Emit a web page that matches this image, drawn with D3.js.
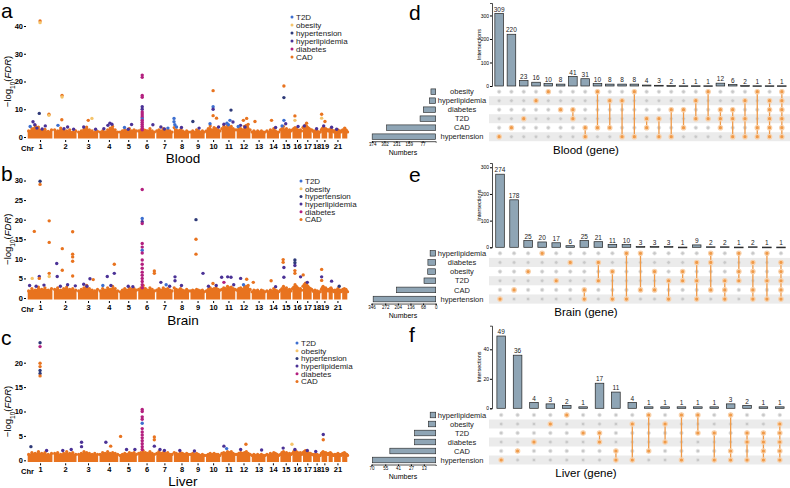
<!DOCTYPE html>
<html>
<head>
<meta charset="utf-8">
<script src="https://cdn.jsdelivr.net/npm/d3@7"></script>
<style>
body { margin: 0; background: #fff; }
svg { font-family: "Liberation Sans", Arial, sans-serif; }
</style>
</head>
<body>
<svg id="fig" width="790" height="488"></svg>
<script>
// ---- shared ----
var traits = ["T2D", "obesity", "hypertension", "hyperlipidemia", "diabetes", "CAD"];
var traitColor = {T2D: "#3d6fd0", obesity: "#f5c46a", hypertension: "#2e3a78",
                  hyperlipidemia: "#4b3296", diabetes: "#b3207f", CAD: "#e8731f"};
// relative chromosome span on the genome axis
var chrSpan = [260, 240, 215, 200, 185, 180, 175, 165, 155, 155, 150, 150, 150, 135, 120, 105, 100, 85, 70, 55, 80, 65];
var chrLabels = ["1","2","3","4","5","6","7","8","9","10","11","12","13","14","15","16","17","18","19","","21",""];

// ---- Manhattan: top of the dense low-signal band, per chromosome ----
var bloodBand = [
 [2.2,3.0,4.2,3.6,2.4,2.8,2.0,2.6],[2.6,2.2,3.2,2.6,2.2,2.6,1.8,2.2],[1.8,2.2,2.8,3.6,2.6,2.2,1.8,2.0],
 [1.8,2.2,1.9,2.6,3.2,3.8,2.6,1.8],[1.8,2.2,2.6,2.2,3.0,2.2,2.6,2.2],[2.2,2.6,2.8,2.4,2.2,3.0,2.2,1.8],
 [2.2,2.6,2.2,3.0,2.2,2.6,2.2,1.8],[3.4,2.6,2.2,2.6,2.2,1.8,2.2,1.8],[1.8,2.2,1.8,2.6,2.2,1.8,2.2,1.8],
 [2.2,3.0,4.0,2.6,3.4,3.0,2.6,2.2],[3.0,3.8,3.4,4.2,3.4,3.8,3.0,2.6],[2.6,3.4,3.0,2.6,3.8,4.2,4.6,2.6],
 [1.8,2.2,1.8,2.2,1.8,2.2,1.8,1.8],[2.2,1.8,2.6,2.2,3.0,2.2,1.8,1.8],[2.6,3.0,3.8,2.6,3.0,2.2,2.6,2.2],
 [2.6,3.0,3.4,3.0,2.6,2.2,2.6,2.2],[3.4,3.8,4.2,3.8,3.4,3.0,2.6,2.6],[2.2,1.8,2.2,1.8,2.2,1.8,1.8,1.8],
 [2.6,3.0,3.4,3.0,2.6,3.0,2.6,2.6],[2.2,2.6,2.2,2.6,3.0,2.6,2.2,2.2],[1.8,2.2,1.8,2.2,2.6,1.8,2.2,1.8],
 [2.2,2.6,2.2,2.6,2.2,2.6,2.2,1.8]];
var brainBand = [
 [1.8,2.4,2.0,2.8,2.2,2.6,2.0,2.4],[2.2,2.6,2.0,2.4,2.8,2.2,2.4,2.0],[1.8,2.2,2.6,3.2,2.4,2.0,1.8,2.2],
 [1.8,2.4,2.0,2.6,2.2,3.0,2.4,1.8],[1.6,2.0,2.4,2.0,2.6,2.2,2.4,2.0],[2.2,2.6,3.2,2.4,2.0,2.6,2.2,1.8],
 [2.0,2.4,2.0,2.6,2.2,2.4,2.0,1.8],[2.6,2.2,2.0,2.4,2.0,1.8,2.2,1.8],[1.8,2.0,1.8,2.2,2.0,1.8,2.0,1.6],
 [1.8,2.2,2.6,2.2,2.4,2.6,2.2,2.0],[2.2,2.6,2.4,3.0,2.6,2.8,2.4,2.2],[2.0,2.4,2.6,2.2,2.8,3.0,3.2,2.2],
 [1.6,2.0,1.8,2.0,1.6,2.0,1.8,1.6],[1.8,1.6,2.0,1.8,2.4,2.0,1.8,1.6],[2.0,2.4,3.0,2.4,2.6,2.0,2.2,1.8],
 [2.4,2.8,3.4,3.0,2.6,2.2,2.4,2.0],[3.0,3.4,3.8,3.4,3.0,2.6,2.4,2.2],[1.8,1.6,2.0,1.6,1.8,1.6,1.6,1.6],
 [2.2,2.6,3.0,2.6,2.4,2.6,2.2,2.0],[1.8,2.2,2.0,2.4,2.6,2.2,2.0,1.8],[1.6,2.0,1.8,2.0,2.4,1.8,2.0,1.6],
 [1.8,2.2,2.0,2.4,2.0,2.2,1.8,1.6]];
var liverBand = [
 [1.2,1.6,1.4,1.8,1.4,1.6,1.2,1.4],[1.4,1.6,1.2,1.4,1.8,1.4,1.6,1.2],[1.2,1.4,1.8,1.6,1.4,1.2,1.4,1.2],
 [1.2,1.6,1.4,1.8,1.4,1.6,1.4,1.2],[1.0,1.2,1.4,1.2,1.6,1.4,1.6,1.2],[1.4,1.6,2.0,1.6,1.4,1.8,1.4,1.2],
 [1.4,1.8,1.4,1.6,1.4,1.6,1.2,1.2],[1.6,1.4,1.2,1.6,1.4,1.2,1.4,1.2],[1.2,1.4,1.2,1.4,1.2,1.0,1.2,1.0],
 [1.0,1.2,1.4,1.2,1.4,1.2,1.2,1.0],[1.4,1.6,1.4,1.8,1.6,1.8,1.4,1.2],[1.2,1.4,1.6,1.4,1.6,1.8,1.4,1.2],
 [1.0,1.2,1.0,1.2,1.0,1.2,1.0,1.0],[1.2,1.0,1.4,1.2,1.6,1.4,1.2,1.0],[1.2,1.6,1.8,1.4,1.6,1.2,1.4,1.2],
 [1.4,1.8,2.0,1.8,1.6,1.4,1.6,1.2],[1.6,1.8,2.0,1.8,1.6,1.4,1.4,1.2],[1.2,1.0,1.2,1.0,1.2,1.0,1.0,1.0],
 [1.4,1.6,1.8,1.6,1.4,1.6,1.4,1.2],[1.2,1.4,1.2,1.6,1.4,1.2,1.2,1.0],[1.0,1.2,1.0,1.2,1.4,1.0,1.2,1.0],
 [1.2,1.4,1.2,1.6,1.4,1.2,1.2,1.0]];

// ---- Manhattan: genes above the band [trait, chr, position in chr (0-1), -log10 FDR] ----
var bloodPoints = [
 ["CAD",1,.50,41.8],["obesity",1,.50,41.2],["hypertension",1,.47,8.5],["hyperlipidemia",1,.23,5.5],
 ["hyperlipidemia",1,.30,4.4],["T2D",1,.12,3.8],["CAD",1,.84,8.2],["obesity",1,.84,7.8],["hyperlipidemia",1,.70,4.0],
 ["hyperlipidemia",1,.38,3.2],["hyperlipidemia",1,.58,2.9],
 ["CAD",2,.37,15.0],["obesity",2,.37,14.4],["CAD",2,.36,6.2],["hyperlipidemia",2,.60,3.6],["T2D",2,.20,4.2],
 ["hyperlipidemia",2,.45,3.0],["hyperlipidemia",2,.85,2.8],
 ["obesity",3,.68,6.7],["CAD",3,.51,6.0],["hyperlipidemia",3,.30,3.6],["hyperlipidemia",3,.85,2.8],
 ["hyperlipidemia",4,.55,5.0],["hyperlipidemia",4,.45,4.2],["hyperlipidemia",4,.65,4.6],["hyperlipidemia",4,.25,3.0],
 ["hyperlipidemia",5,.68,4.5],["T2D",5,.30,3.4],["hyperlipidemia",5,.50,2.8],
 ["diabetes",6,.26,22.3],["diabetes",6,.26,21.5],["diabetes",6,.26,15.0],["diabetes",6,.26,14.3],
 ["hyperlipidemia",6,.26,10.9],["hyperlipidemia",6,.26,10.0],["diabetes",6,.26,9.0],["diabetes",6,.26,8.3],
 ["diabetes",6,.26,7.6],["diabetes",6,.26,7.0],["T2D",6,.26,6.5],["diabetes",6,.26,6.0],["diabetes",6,.26,5.3],
 ["diabetes",6,.26,4.6],["diabetes",6,.26,3.9],["diabetes",6,.26,3.2],["diabetes",6,.26,2.6],["hyperlipidemia",6,.85,4.4],
 ["hyperlipidemia",7,.30,3.6],["T2D",7,.70,3.2],["hyperlipidemia",7,.50,2.9],
 ["T2D",8,.05,6.7],["T2D",8,.05,5.5],["T2D",8,.10,4.4],["hyperlipidemia",8,.50,3.4],["T2D",8,.20,3.6],
 ["hypertension",9,.20,5.6],["hyperlipidemia",9,.60,3.2],
 ["CAD",10,.50,16.7],["T2D",10,.50,10.9],["hyperlipidemia",10,.50,10.0],["CAD",10,.50,7.7],["CAD",10,.72,6.8],["T2D",10,.30,4.8],
 ["hyperlipidemia",10,.85,3.6],
 ["hypertension",11,.67,9.7],["T2D",11,.60,6.0],["hyperlipidemia",11,.80,5.4],["T2D",11,.40,5.0],["hyperlipidemia",11,.20,4.6],
 ["T2D",11,.50,4.4],
 ["CAD",12,.49,6.0],["CAD",12,.71,6.7],["hyperlipidemia",12,.30,4.2],["T2D",12,.15,3.8],["hyperlipidemia",12,.60,3.6],
 ["CAD",13,.26,5.6],["CAD",14,.40,6.0],["hyperlipidemia",14,.70,3.4],
 ["CAD",15,.35,18.4],["hypertension",15,.35,14.2],["T2D",15,.35,6.0],["hyperlipidemia",15,.50,4.8],["T2D",15,.20,4.0],
 ["CAD",16,.30,7.6],["obesity",16,.30,6.0],["hyperlipidemia",16,.60,3.8],
 ["CAD",17,.43,5.0],["hyperlipidemia",17,.20,4.0],["hyperlipidemia",18,.50,3.0],
 ["CAD",19,.11,8.2],["obesity",19,.11,6.8],["CAD",19,.58,5.6],["hyperlipidemia",19,.40,4.0],
 ["hyperlipidemia",20,.67,3.5],["hyperlipidemia",21,.40,2.8],["CAD",22,.50,3.2]];
var brainPoints = [
 ["hypertension",1,.50,29.8],["CAD",1,.50,29.0],["CAD",1,.28,17.0],["obesity",1,.20,5.0],["hyperlipidemia",1,.47,5.5],
 ["CAD",1,.47,5.0],["CAD",1,.85,19.7],["CAD",1,.85,14.2],["CAD",1,.85,6.3],["obesity",1,.85,5.5],["hyperlipidemia",1,.10,3.2],
 ["hyperlipidemia",1,.35,3.0],["hyperlipidemia",1,.65,3.3],
 ["hyperlipidemia",2,.15,8.8],["hyperlipidemia",2,.17,5.5],["CAD",2,.38,12.6],["CAD",2,.38,7.1],
 ["CAD",2,.81,16.9],["CAD",2,.81,11.2],["CAD",2,.81,10.5],["CAD",2,.81,9.4],["CAD",2,.81,5.6],["hyperlipidemia",2,.60,3.4],
 ["hyperlipidemia",2,.30,3.0],["hyperlipidemia",2,.92,3.1],
 ["hyperlipidemia",3,.59,4.9],["CAD",3,.74,4.7],["hyperlipidemia",3,.30,3.5],["hyperlipidemia",3,.45,3.0],
 ["hyperlipidemia",4,.42,5.5],["hyperlipidemia",4,.77,6.3],["CAD",4,.77,8.6],["T2D",4,.20,3.2],["hyperlipidemia",4,.60,3.2],
 ["hyperlipidemia",5,.50,3.0],["hyperlipidemia",5,.75,2.9],
 ["diabetes",6,.26,27.7],["T2D",6,.26,20.3],["hyperlipidemia",6,.26,19.5],["diabetes",6,.26,19.0],["diabetes",6,.26,13.9],
 ["diabetes",6,.26,13.0],["T2D",6,.26,12.2],["diabetes",6,.26,11.5],["diabetes",6,.26,9.7],["diabetes",6,.26,8.6],
 ["diabetes",6,.26,7.6],["diabetes",6,.26,6.6],["diabetes",6,.26,5.8],["diabetes",6,.26,5.0],["diabetes",6,.26,4.2],
 ["diabetes",6,.26,3.4],["diabetes",6,.26,2.6],["CAD",6,.93,6.9],["CAD",6,.93,6.3],
 ["hyperlipidemia",7,.30,4.0],["T2D",7,.60,3.4],["hyperlipidemia",7,.80,3.0],
 ["hyperlipidemia",8,.11,5.4],["hyperlipidemia",8,.11,4.4],["hyperlipidemia",8,.50,3.2],
 ["hypertension",9,.40,20.0],["CAD",9,.40,15.0],["CAD",9,.40,11.2],["hyperlipidemia",9,.85,6.3],
 ["CAD",10,.49,3.7],["hyperlipidemia",10,.20,3.0],["hyperlipidemia",10,.70,3.2],
 ["hyperlipidemia",11,.05,5.3],["hyperlipidemia",11,.45,5.4],["hyperlipidemia",11,.67,5.3],["diabetes",11,.20,4.0],
 ["hyperlipidemia",11,.85,3.4],
 ["hyperlipidemia",12,.31,5.0],["CAD",12,.71,4.8],["T2D",12,.50,3.4],
 ["CAD",13,.15,4.0],["CAD",14,.37,4.4],["hyperlipidemia",14,.70,2.9],
 ["CAD",15,.29,9.8],["CAD",15,.29,9.1],["hyperlipidemia",15,.35,7.8],["hyperlipidemia",15,.35,5.3],
 ["hypertension",16,.30,9.7],["hypertension",16,.30,9.0],["hyperlipidemia",16,.30,8.3],["CAD",16,.30,7.0],
 ["CAD",16,.30,6.3],["hyperlipidemia",16,.84,5.4],
 ["CAD",17,.09,5.9],["hyperlipidemia",17,.50,4.0],
 ["CAD",19,.11,7.3],["hyperlipidemia",19,.11,5.4],["CAD",19,.11,4.5],
 ["hyperlipidemia",20,.67,4.3],["hypertension",21,.72,3.0]];
var liverPoints = [
 ["hypertension",1,.50,24.1],["diabetes",1,.50,23.3],["CAD",1,.50,19.9],["CAD",1,.50,19.2],["hypertension",1,.50,18.4],
 ["hypertension",1,.50,17.8],["CAD",1,.50,17.3],["hypertension",1,.15,2.8],["hyperlipidemia",1,.75,2.0],
 ["hyperlipidemia",2,.40,2.0],["hyperlipidemia",2,.75,2.2],
 ["hyperlipidemia",3,.20,3.7],["hyperlipidemia",3,.20,2.8],["hyperlipidemia",4,.35,3.7],["CAD",4,.59,2.9],
 ["CAD",5,.09,4.9],["hyperlipidemia",5,.41,2.2],["hyperlipidemia",5,.86,2.2],
 ["diabetes",6,.26,10.4],["diabetes",6,.26,10.0],["diabetes",6,.26,8.9],["diabetes",6,.26,8.4],["T2D",6,.26,7.6],
 ["diabetes",6,.26,6.5],["diabetes",6,.26,5.8],["diabetes",6,.26,5.2],["diabetes",6,.26,4.6],["diabetes",6,.26,4.0],
 ["diabetes",6,.26,3.4],["diabetes",6,.26,2.8],["diabetes",6,.26,2.2],
 ["CAD",6,.93,4.8],["CAD",6,.93,4.2],["hyperlipidemia",6,.93,2.9],
 ["hyperlipidemia",7,.25,2.2],["hyperlipidemia",7,.50,2.0],["hyperlipidemia",8,.40,2.0],["hyperlipidemia",9,.30,1.9],
 ["hyperlipidemia",11,.20,2.9],["T2D",11,.38,2.4],["hyperlipidemia",12,.31,2.2],["CAD",12,.66,3.3],
 ["hyperlipidemia",13,.70,2.1],["hyperlipidemia",15,.29,2.5],["obesity",16,.02,3.3],["hyperlipidemia",16,.30,2.2],
 ["hyperlipidemia",17,.50,2.0],["hyperlipidemia",18,.40,1.8],["hyperlipidemia",19,.34,5.3],["CAD",19,.34,4.2]];

// ---- UpSet data ----
var bloodSets = ["obesity", "hyperlipidemia", "diabetes", "T2D", "CAD", "hypertension"];
var bloodSizes = [28, 37, 73, 92, 289, 374];
var bloodCounts = [309,220,23,16,10,8,41,31,10,8,8,8,4,3,2,1,1,1,12,6,2,1,1,1];
var bloodCombos = [["hypertension"],["CAD"],["T2D"],["hyperlipidemia"],["obesity"],["diabetes"],
 ["diabetes","T2D"],["CAD","hypertension"],["obesity","CAD"],["hyperlipidemia","CAD"],["hyperlipidemia","hypertension"],
 ["obesity","hypertension"],["T2D","CAD"],["T2D","hypertension"],["diabetes","hypertension"],["diabetes","CAD"],
 ["hyperlipidemia","T2D"],["obesity","T2D"],["diabetes","T2D","CAD"],["diabetes","T2D","hypertension"],
 ["hyperlipidemia","T2D","hypertension"],["obesity","CAD","hypertension"],
 ["hyperlipidemia","diabetes","T2D","CAD","hypertension"],["obesity","hyperlipidemia","diabetes","T2D","CAD","hypertension"]];
var bloodSizeTicks = [374, 302, 231, 159, 77];

var brainSets = ["hyperlipidemia", "diabetes", "obesity", "T2D", "CAD", "hypertension"];
var brainSizes = [30, 42, 43, 63, 211, 337];
var brainCounts = [274,178,25,20,17,6,25,21,11,10,3,3,3,1,9,2,2,1,2,1,1];
var brainCombos = [["hypertension"],["CAD"],["obesity"],["hyperlipidemia"],["T2D"],["diabetes"],
 ["CAD","hypertension"],["diabetes","T2D"],["obesity","hypertension"],["hyperlipidemia","hypertension"],
 ["hyperlipidemia","CAD"],["obesity","CAD"],["T2D","hypertension"],["obesity","T2D"],["diabetes","T2D","hypertension"],
 ["hyperlipidemia","diabetes","CAD"],["T2D","CAD","hypertension"],["hyperlipidemia","obesity","T2D"],
 ["diabetes","obesity","CAD","hypertension"],["hyperlipidemia","T2D","hypertension"],
 ["diabetes","obesity","T2D","CAD","hypertension"]];
var brainSizeTicks = [346, 272, 204, 136, 68, 0];

var liverSets = ["hyperlipidemia", "obesity", "T2D", "diabetes", "CAD", "hypertension"];
var liverSizes = [6, 8, 23, 23, 50, 69];
var liverCounts = [49,36,4,3,2,1,17,11,4,1,1,1,1,1,3,2,1,1];
var liverCombos = [["hypertension"],["CAD"],["diabetes"],["obesity"],["hyperlipidemia"],["T2D"],
 ["T2D","diabetes"],["CAD","hypertension"],["obesity","hypertension"],["hyperlipidemia","CAD"],["obesity","diabetes"],
 ["hyperlipidemia","hypertension"],["hyperlipidemia","T2D"],["T2D","hypertension"],["hyperlipidemia","CAD","hypertension"],
 ["T2D","diabetes","hypertension"],["T2D","diabetes","CAD","hypertension"],["obesity","T2D","diabetes","CAD","hypertension"]];
var liverSizeTicks = [70, 55, 41, 27, 13];

var svg = d3.select("#fig");

function draw_manhattan(cfg) {
    var g = svg.append("g"),
        total = d3.sum(chrSpan),
        starts = chrSpan.map((s, i) => d3.sum(chrSpan.slice(0, i))),
        x = d3.scaleLinear().domain([0, total]).range([27, 348]),
        y = d3.scaleLinear().domain([0, cfg.yMax]).range([cfg.y0, cfg.yTop]),
        eps = x.invert(27.7);

    var area = d3.area().x(d => x(d[0])).y0(y(0) + 1.6).y1(d => y(d[1]));

    cfg.band.forEach((vals, ci) => {
        var pts = vals.map((v, j) => [starts[ci] + (j + 0.5) / vals.length * chrSpan[ci], v]);
        var edge = [[starts[ci] + eps, vals[0]]].concat(pts, [[starts[ci] + chrSpan[ci] - eps, vals[vals.length - 1]]]);
        g.append("path").attr("d", area(edge)).attr("fill", traitColor.CAD);
        g.selectAll(null).data(pts).enter().append("circle")
            .attr("cx", d => x(d[0])).attr("cy", d => y(d[1])).attr("r", 1.6)
            .attr("fill", traitColor.CAD);
    });

    g.selectAll(".pt").data(cfg.points).enter().append("circle").classed("pt", true)
        .attr("cx", d => x(starts[d[1] - 1] + d[2] * chrSpan[d[1] - 1]))
        .attr("cy", d => y(d[3])).attr("r", 1.7)
        .attr("fill", d => traitColor[d[0]]);

    // axes
    var ya = g.append("g").attr("transform", "translate(26,0)")
        .call(d3.axisLeft(y).tickValues(cfg.yTicks).tickSize(2).tickPadding(1));
    ya.select(".domain").remove();
    ya.selectAll("text").style("font-size", "7.5px").style("font-weight", "bold");

    var centers = chrSpan.map((s, i) => starts[i] + s / 2);
    var xa = g.append("g").attr("transform", "translate(0," + (cfg.y0 + 3) + ")")
        .call(d3.axisBottom(x).tickValues(centers).tickFormat((d, i) => chrLabels[i]).tickSize(2).tickPadding(1.5));
    xa.select(".domain").remove();
    xa.selectAll(".tick line").attr("opacity", (d, i) => chrLabels[i] ? 1 : 0);
    xa.selectAll("text").style("font-size", "7.5px").style("font-weight", "bold");
    g.append("text").attr("x", 21).attr("y", cfg.y0 + 13.5).text("Chr")
        .style("font-size", "7.5px").style("font-weight", "bold");

    var yl = g.append("text").attr("transform", "translate(11," + ((cfg.y0 + cfg.yTop) / 2) + ") rotate(-90)")
        .attr("text-anchor", "middle").style("font-size", "9.5px");
    yl.append("tspan").text("\u2212log");
    yl.append("tspan").text("10").attr("baseline-shift", "sub").style("font-size", "6.5px");
    yl.append("tspan").text("(");
    yl.append("tspan").text("FDR").style("font-style", "italic");
    yl.append("tspan").text(")");

    g.append("text").attr("x", 183).attr("y", cfg.titleY).attr("text-anchor", "middle")
        .text(cfg.title).style("font-size", "13.5px");
    g.append("text").attr("x", 1).attr("y", cfg.letterY).text(cfg.letter).style("font-size", "21px");

    var lg = g.append("g").attr("transform", "translate(" + cfg.legendX + "," + cfg.legendY + ")");
    traits.forEach((t, i) => {
        lg.append("circle").attr("cx", 0).attr("cy", i * cfg.legendStep).attr("r", 1.5).attr("fill", traitColor[t]);
        lg.append("text").attr("x", 4).attr("y", i * cfg.legendStep).attr("dy", "0.35em")
            .text(t).style("font-size", "8px").attr("fill", "#222");
    });
}

function draw_upset(cfg) {
    var g = svg.append("g"),
        barColor = "#8fa5b5",
        hit = "#f09a48",
        x = d3.scaleBand().domain(cfg.counts.map((_, i) => i)).range([493, 788]),
        y = d3.scaleLinear().domain([0, cfg.barMax]).range([cfg.zeroY, cfg.barTop]),
        rowY = cfg.sets.map((s, i) => cfg.rowY0 + i * cfg.rowStep),
        xs = d3.scaleLinear().domain([0, cfg.sizeMax]).range([435.7, 371.5]),
        bw = 8.6;

    g.append("text").attr("x", 409).attr("y", cfg.letterY).text(cfg.letter).style("font-size", "21px");

    // intersection bars
    g.selectAll(".bar").data(cfg.counts).enter().append("rect").classed("bar", true)
        .attr("x", (d, i) => x(i) + x.bandwidth() / 2 - bw / 2)
        .attr("y", d => y(d)).attr("width", bw).attr("height", d => Math.max(cfg.zeroY - y(d), 0.8))
        .attr("fill", barColor).attr("stroke", "#222").attr("stroke-width", 0.7);
    g.selectAll(".cnt").data(cfg.counts).enter().append("text").classed("cnt", true)
        .attr("x", (d, i) => x(i) + x.bandwidth() / 2).attr("y", d => y(d) - 1.8)
        .attr("text-anchor", "middle").text(d => d).style("font-size", "6.5px").attr("fill", "#222");

    var ya = g.append("g").attr("transform", "translate(492,0)")
        .call(d3.axisLeft(y).tickValues(cfg.barTicks).tickSize(2).tickPadding(1));
    ya.selectAll("text").style("font-size", "5px");
    ya.select(".domain").attr("stroke-width", 0.7);
    g.append("text").attr("transform", "translate(481," + ((cfg.zeroY + cfg.barTop) / 2) + ") rotate(-90)")
        .attr("text-anchor", "middle").text("Intersections").style("font-size", "5.5px");

    // matrix
    rowY.forEach((ry, r) => {
        if (r % 2 === 1) {
            g.append("rect").attr("x", 489).attr("y", ry - cfg.rowStep / 2).attr("width", 301)
                .attr("height", cfg.rowStep).attr("fill", "#ebebeb");
        }
    });
    cfg.combos.forEach((combo, i) => {
        var cx = x(i) + x.bandwidth() / 2,
            idx = combo.map(s => cfg.sets.indexOf(s));
        cfg.sets.forEach((s, r) => {
            g.append("circle").attr("cx", cx).attr("cy", rowY[r]).attr("r", 1.8)
                .attr("fill", "#c8c8c8").attr("stroke", "#e4e4e4").attr("stroke-width", 0.8);
        });
        if (idx.length > 1) {
            g.append("line").attr("x1", cx).attr("x2", cx)
                .attr("y1", rowY[d3.min(idx)]).attr("y2", rowY[d3.max(idx)])
                .attr("stroke", hit).attr("stroke-width", 1.3);
        }
        idx.forEach(r => {
            g.append("circle").attr("cx", cx).attr("cy", rowY[r]).attr("r", 2.2)
                .attr("fill", hit).attr("stroke", "#f8d2ad").attr("stroke-width", 1.2);
        });
    });

    // set sizes
    g.selectAll(".set").data(cfg.sizes).enter().append("rect").classed("set", true)
        .attr("x", d => xs(d)).attr("y", (d, i) => rowY[i] - 2.8)
        .attr("width", d => 435.7 - xs(d)).attr("height", 5.6)
        .attr("fill", barColor).attr("stroke", "#222").attr("stroke-width", 0.6);
    g.selectAll(".lab").data(cfg.sets).enter().append("text").classed("lab", true)
        .attr("x", 462).attr("y", (d, i) => rowY[i]).attr("dy", "0.35em")
        .attr("text-anchor", "middle").text(d => d).style("font-size", "7.5px").attr("fill", "#222");
    var axisY = rowY[rowY.length - 1] + 4.5;
    var xa = g.append("g").attr("transform", "translate(0," + axisY + ")")
        .call(d3.axisBottom(xs).tickValues(cfg.sizeTicks).tickSize(1.5).tickPadding(0.5));
    xa.selectAll("text").style("font-size", "4.5px");
    xa.select(".domain").attr("stroke-width", 0.7);
    g.append("text").attr("x", 403).attr("y", axisY + 14).attr("text-anchor", "middle")
        .text("Numbers").style("font-size", "7px");

    g.append("text").attr("x", 586).attr("y", axisY + 12.5).attr("text-anchor", "middle")
        .text(cfg.title).style("font-size", "11.5px");
}

draw_manhattan({band: bloodBand, points: bloodPoints, yMax: 40, y0: 137, yTop: 26, yTicks: [0, 10, 20, 30, 40],
    title: "Blood", titleY: 163, letter: "a", letterY: 18, legendX: 292, legendY: 17, legendStep: 8});
draw_manhattan({band: brainBand, points: brainPoints, yMax: 30, y0: 298, yTop: 180.5, yTicks: [0, 5, 10, 15, 20, 25, 30],
    title: "Brain", titleY: 325, letter: "b", letterY: 181, legendX: 301, legendY: 181, legendStep: 7.7});
draw_manhattan({band: liverBand, points: liverPoints, yMax: 20, y0: 460.3, yTop: 362.7, yTicks: [0, 5, 10, 15, 20],
    title: "Liver", titleY: 486, letter: "c", letterY: 345, legendX: 297, legendY: 343, legendStep: 7.7});

draw_upset({sets: bloodSets, sizes: bloodSizes, counts: bloodCounts, combos: bloodCombos, sizeTicks: bloodSizeTicks,
    sizeMax: 378, barMax: 353, barTicks: [0, 100, 200, 300], zeroY: 86, barTop: 3,
    rowY0: 91.7, rowStep: 9, title: "Blood (gene)", letter: "d", letterY: 20});
draw_upset({sets: brainSets, sizes: brainSizes, counts: brainCounts, combos: brainCombos, sizeTicks: brainSizeTicks,
    sizeMax: 346, barMax: 316, barTicks: [0, 100, 200, 300], zeroY: 247.3, barTop: 163,
    rowY0: 253.3, rowStep: 9.15, title: "Brain (gene)", letter: "e", letterY: 182});
draw_upset({sets: liverSets, sizes: liverSizes, counts: liverCounts, combos: liverCombos, sizeTicks: liverSizeTicks,
    sizeMax: 70, barMax: 56, barTicks: [0, 20, 40], zeroY: 408.3, barTop: 325.7,
    rowY0: 415, rowStep: 9, title: "Liver (gene)", letter: "f", letterY: 342});
</script>
</body>
</html>
